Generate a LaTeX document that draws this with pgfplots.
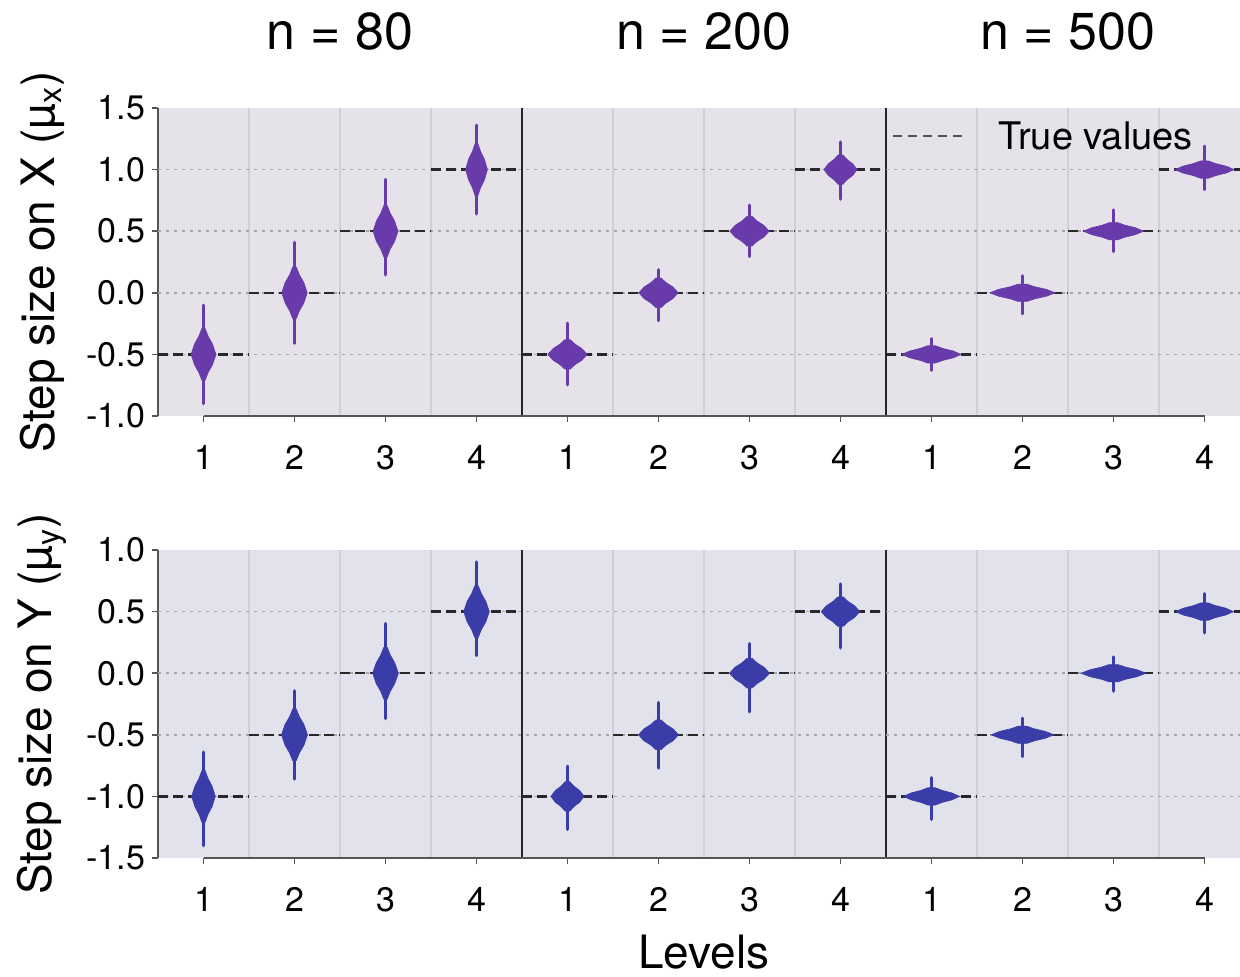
\documentclass[border=0pt]{standalone}
\usepackage{fontspec}
\setmainfont{TeX Gyre Heros}
\usepackage{pgfplots}
\pgfplotsset{compat=1.18}
\usepackage{pgfplotstable}

\definecolor{vpurple}{RGB}{104,58,170}
\definecolor{vblue}{RGB}{58,60,168}
\definecolor{bgtop}{RGB}{229,226,234}
\definecolor{bgbot}{RGB}{226,226,236}
\definecolor{axgray}{RGB}{85,85,85}
\definecolor{gridv}{RGB}{208,208,212}
\definecolor{gridh}{RGB}{165,165,170}
\definecolor{truec}{RGB}{40,40,40}

% needle extent of each violin: x, centre, upper reach, lower reach
\pgfplotstableread{
x c ep em
1 -0.5 0.40 0.40
2 0 0.41 0.41
3 0.5 0.42 0.355
4 1.0 0.36 0.36
5 -0.5 0.254 0.247
6 0 0.187 0.225
7 0.5 0.211 0.205
8 1.0 0.225 0.24
9 -0.5 0.127 0.13
10 0 0.138 0.17
11 0.5 0.173 0.165
12 1.0 0.19 0.162
}\needletop

\pgfplotstableread{
x c ep em
1 -1 0.36 0.40
2 -0.5 0.357 0.36
3 0 0.403 0.368
4 0.5 0.403 0.357
5 -1 0.246 0.268
6 -0.5 0.262 0.27
7 0 0.24 0.314
8 0.5 0.225 0.295
9 -1 0.152 0.187
10 -0.5 0.135 0.176
11 0 0.132 0.146
12 0.5 0.146 0.173
}\needlebot

\pgfplotsset{
  panel/.style={
    scale only axis, width=541pt, height=154pt,
    xmin=0.5, xmax=12.39,
    axis x line*=bottom, axis y line*=left,
    x axis line style={draw=none},
    y axis line style={axgray, line width=0.8pt},
    xtick={1,...,12}, xticklabels={1,2,3,4,1,2,3,4,1,2,3,4},
    minor xtick={1.5,2.5,3.5,5.5,6.5,7.5,9.5,10.5,11.5},
    xminorgrids,
    minor grid style={color=gridv, line width=0.6pt},
    extra x ticks={4.5,8.5}, extra x tick labels={},
    extra x tick style={grid=major, major grid style={color=black!85, line width=0.9pt}, major tick length=0pt},
    tick align=outside, major tick length=3pt, minor tick length=0pt,
    tick style={axgray, line width=0.8pt},
    tick label style={font=\fontsize{17}{20}\selectfont, text=black},
    xticklabel style={yshift=-8pt},
  },
  truedash/.style={color=truec, line width=1.2pt, dash pattern=on 5pt off 2.5pt, unbounded coords=jump, mark=none},
  vbt/.style={fill=vpurple, draw=vpurple, line width=0.3pt, mark=none},
  vbb/.style={fill=vblue, draw=vblue, line width=0.3pt, mark=none},
}

\begin{document}
\begin{tikzpicture}

% ---------------- top row: step size on X ----------------
\begin{axis}[panel, at={(79pt,280pt)}, anchor=south west,
  axis background/.style={fill=bgtop},
  ymin=-1, ymax=1.5,
  ytick={-1,-0.5,0,0.5,1,1.5}, yticklabels={-1.0,-0.5,0.0,0.5,1.0,1.5},
  extra y ticks={-0.5,0,0.5,1}, extra y tick labels={},
  extra y tick style={grid=major, major grid style={color=gridh, line width=0.75pt, dash pattern=on 1.5pt off 2.5pt}, major tick length=0pt},
]
\addplot[truedash] coordinates {(0.5,-0.5) (1.5,-0.5) (1.5,nan) (1.5,0) (2.5,0) (2.5,nan) (2.5,0.5) (3.5,0.5) (3.5,nan) (3.5,1) (4.5,1) (4.5,nan)
 (4.5,-0.5) (5.5,-0.5) (5.5,nan) (5.5,0) (6.5,0) (6.5,nan) (6.5,0.5) (7.5,0.5) (7.5,nan) (7.5,1) (8.5,1) (8.5,nan)
 (8.5,-0.5) (9.5,-0.5) (9.5,nan) (9.5,0) (10.5,0) (10.5,nan) (10.5,0.5) (11.5,0.5) (11.5,nan) (11.5,1) (12.5,1)};

\addplot[draw=none, mark=none, error bars/.cd, y dir=both, y explicit, error mark=none,
  error bar style={draw=vpurple, line width=1.6pt, line cap=round}]
  table[x=x, y=c, y error plus=ep, y error minus=em] {\needletop};

% n = 80
\addplot[vbt] coordinates {(1.018,-0.29) (1.051,-0.353) (1.099,-0.416) (1.137,-0.5) (1.099,-0.584) (1.051,-0.647) (1.018,-0.71) (0.982,-0.71) (0.949,-0.647) (0.901,-0.584) (0.863,-0.5) (0.901,-0.416) (0.949,-0.353) (0.982,-0.29)} -- cycle;
\addplot[vbt] coordinates {(2.019,0.21) (2.053,0.147) (2.102,0.084) (2.14,0) (2.102,-0.084) (2.053,-0.147) (2.019,-0.21) (1.981,-0.21) (1.947,-0.147) (1.898,-0.084) (1.86,0) (1.898,0.084) (1.947,0.147) (1.981,0.21)} -- cycle;
\addplot[vbt] coordinates {(3.018,0.71) (3.051,0.647) (3.099,0.584) (3.137,0.5) (3.099,0.416) (3.051,0.353) (3.018,0.29) (2.982,0.29) (2.949,0.353) (2.901,0.416) (2.863,0.5) (2.901,0.584) (2.949,0.647) (2.982,0.71)} -- cycle;
\addplot[vbt] coordinates {(4.016,1.21) (4.045,1.147) (4.087,1.084) (4.12,1) (4.087,0.916) (4.045,0.853) (4.016,0.79) (3.984,0.79) (3.955,0.853) (3.913,0.916) (3.88,1) (3.913,1.084) (3.955,1.147) (3.984,1.21)} -- cycle;
% n = 200
\addplot[vbt] coordinates {(5.029,-0.38) (5.081,-0.416) (5.157,-0.452) (5.216,-0.5) (5.157,-0.548) (5.081,-0.584) (5.029,-0.62) (4.971,-0.62) (4.919,-0.584) (4.843,-0.548) (4.784,-0.5) (4.843,-0.452) (4.919,-0.416) (4.971,-0.38)} -- cycle;
\addplot[vbt] coordinates {(6.029,0.12) (6.081,0.084) (6.157,0.048) (6.216,0) (6.157,-0.048) (6.081,-0.084) (6.029,-0.12) (5.971,-0.12) (5.919,-0.084) (5.843,-0.048) (5.784,0) (5.843,0.048) (5.919,0.084) (5.971,0.12)} -- cycle;
\addplot[vbt] coordinates {(7.029,0.62) (7.081,0.584) (7.157,0.548) (7.216,0.5) (7.157,0.452) (7.081,0.416) (7.029,0.38) (6.971,0.38) (6.919,0.416) (6.843,0.452) (6.784,0.5) (6.843,0.548) (6.919,0.584) (6.971,0.62)} -- cycle;
\addplot[vbt] coordinates {(8.025,1.12) (8.069,1.084) (8.133,1.048) (8.183,1) (8.133,0.952) (8.069,0.916) (8.025,0.88) (7.975,0.88) (7.931,0.916) (7.867,0.952) (7.817,1) (7.867,1.048) (7.931,1.084) (7.975,1.12)} -- cycle;
% n = 500
\addplot[vbt] coordinates {(9.044,-0.43) (9.122,-0.451) (9.237,-0.472) (9.326,-0.5) (9.237,-0.528) (9.122,-0.549) (9.044,-0.57) (8.956,-0.57) (8.878,-0.549) (8.763,-0.528) (8.674,-0.5) (8.763,-0.472) (8.878,-0.451) (8.956,-0.43)} -- cycle;
\addplot[vbt] coordinates {(10.049,0.07) (10.135,0.049) (10.261,0.028) (10.36,0) (10.261,-0.028) (10.135,-0.049) (10.049,-0.07) (9.951,-0.07) (9.865,-0.049) (9.739,-0.028) (9.64,0) (9.739,0.028) (9.865,0.049) (9.951,0.07)} -- cycle;
\addplot[vbt] coordinates {(11.045,0.57) (11.124,0.549) (11.24,0.528) (11.33,0.5) (11.24,0.472) (11.124,0.451) (11.045,0.43) (10.955,0.43) (10.876,0.451) (10.76,0.472) (10.67,0.5) (10.76,0.528) (10.876,0.549) (10.955,0.57)} -- cycle;
\addplot[vbt] coordinates {(12.044,1.07) (12.122,1.049) (12.237,1.028) (12.326,1) (12.237,0.972) (12.122,0.951) (12.044,0.93) (11.956,0.93) (11.878,0.951) (11.763,0.972) (11.674,1) (11.763,1.028) (11.878,1.049) (11.956,1.07)} -- cycle;

\coordinate (ta) at (axis cs:1,-1);
\coordinate (tb) at (axis cs:12,-1);
\end{axis}

% ---------------- bottom row: step size on Y ----------------
\begin{axis}[panel, at={(79pt,59pt)}, anchor=south west,
  axis background/.style={fill=bgbot},
  ymin=-1.5, ymax=1,
  ytick={-1.5,-1,-0.5,0,0.5,1}, yticklabels={-1.5,-1.0,-0.5,0.0,0.5,1.0},
  extra y ticks={-1,-0.5,0,0.5}, extra y tick labels={},
  extra y tick style={grid=major, major grid style={color=gridh, line width=0.75pt, dash pattern=on 1.5pt off 2.5pt}, major tick length=0pt},
]
\addplot[truedash] coordinates {(0.5,-1) (1.5,-1) (1.5,nan) (1.5,-0.5) (2.5,-0.5) (2.5,nan) (2.5,0) (3.5,0) (3.5,nan) (3.5,0.5) (4.5,0.5) (4.5,nan)
 (4.5,-1) (5.5,-1) (5.5,nan) (5.5,-0.5) (6.5,-0.5) (6.5,nan) (6.5,0) (7.5,0) (7.5,nan) (7.5,0.5) (8.5,0.5) (8.5,nan)
 (8.5,-1) (9.5,-1) (9.5,nan) (9.5,-0.5) (10.5,-0.5) (10.5,nan) (10.5,0) (11.5,0) (11.5,nan) (11.5,0.5) (12.5,0.5)};

\addplot[draw=none, mark=none, error bars/.cd, y dir=both, y explicit, error mark=none,
  error bar style={draw=vblue, line width=1.6pt, line cap=round}]
  table[x=x, y=c, y error plus=ep, y error minus=em] {\needlebot};

% n = 80
\addplot[vbb] coordinates {(1.018,-0.79) (1.049,-0.853) (1.094,-0.916) (1.13,-1) (1.094,-1.084) (1.049,-1.147) (1.018,-1.21) (0.982,-1.21) (0.951,-1.147) (0.906,-1.084) (0.87,-1) (0.906,-0.916) (0.951,-0.853) (0.982,-0.79)} -- cycle;
\addplot[vbb] coordinates {(2.019,-0.29) (2.054,-0.353) (2.104,-0.416) (2.143,-0.5) (2.104,-0.584) (2.054,-0.647) (2.019,-0.71) (1.981,-0.71) (1.946,-0.647) (1.896,-0.584) (1.857,-0.5) (1.896,-0.416) (1.946,-0.353) (1.981,-0.29)} -- cycle;
\addplot[vbb] coordinates {(3.019,0.21) (3.053,0.147) (3.102,0.084) (3.141,0) (3.102,-0.084) (3.053,-0.147) (3.019,-0.21) (2.981,-0.21) (2.947,-0.147) (2.898,-0.084) (2.859,0) (2.898,0.084) (2.947,0.147) (2.981,0.21)} -- cycle;
\addplot[vbb] coordinates {(4.019,0.71) (4.053,0.647) (4.102,0.584) (4.141,0.5) (4.102,0.416) (4.053,0.353) (4.019,0.29) (3.981,0.29) (3.947,0.353) (3.898,0.416) (3.859,0.5) (3.898,0.584) (3.947,0.647) (3.981,0.71)} -- cycle;
% n = 200
\addplot[vbb] coordinates {(5.025,-0.88) (5.069,-0.916) (5.133,-0.952) (5.183,-1) (5.133,-1.048) (5.069,-1.084) (5.025,-1.12) (4.975,-1.12) (4.931,-1.084) (4.867,-1.048) (4.817,-1) (4.867,-0.952) (4.931,-0.916) (4.975,-0.88)} -- cycle;
\addplot[vbb] coordinates {(6.03,-0.38) (6.083,-0.416) (6.16,-0.452) (6.22,-0.5) (6.16,-0.548) (6.083,-0.584) (6.03,-0.62) (5.97,-0.62) (5.917,-0.584) (5.84,-0.548) (5.78,-0.5) (5.84,-0.452) (5.917,-0.416) (5.97,-0.38)} -- cycle;
\addplot[vbb] coordinates {(7.03,0.12) (7.083,0.084) (7.16,0.048) (7.22,0) (7.16,-0.048) (7.083,-0.084) (7.03,-0.12) (6.97,-0.12) (6.917,-0.084) (6.84,-0.048) (6.78,0) (6.84,0.048) (6.917,0.084) (6.97,0.12)} -- cycle;
\addplot[vbb] coordinates {(8.029,0.62) (8.08,0.584) (8.154,0.548) (8.212,0.5) (8.154,0.452) (8.08,0.416) (8.029,0.38) (7.971,0.38) (7.92,0.416) (7.846,0.452) (7.788,0.5) (7.846,0.548) (7.92,0.584) (7.971,0.62)} -- cycle;
% n = 500
\addplot[vbb] coordinates {(9.042,-0.93) (9.116,-0.951) (9.224,-0.972) (9.308,-1) (9.224,-1.028) (9.116,-1.049) (9.042,-1.07) (8.958,-1.07) (8.884,-1.049) (8.776,-1.028) (8.692,-1) (8.776,-0.972) (8.884,-0.951) (8.958,-0.93)} -- cycle;
\addplot[vbb] coordinates {(10.046,-0.43) (10.129,-0.451) (10.25,-0.472) (10.344,-0.5) (10.25,-0.528) (10.129,-0.549) (10.046,-0.57) (9.954,-0.57) (9.871,-0.549) (9.75,-0.528) (9.656,-0.5) (9.75,-0.472) (9.871,-0.451) (9.954,-0.43)} -- cycle;
\addplot[vbb] coordinates {(11.048,0.07) (11.134,0.049) (11.259,0.028) (11.357,0) (11.259,-0.028) (11.134,-0.049) (11.048,-0.07) (10.952,-0.07) (10.866,-0.049) (10.741,-0.028) (10.643,0) (10.741,0.028) (10.866,0.049) (10.952,0.07)} -- cycle;
\addplot[vbb] coordinates {(12.043,0.57) (12.12,0.549) (12.232,0.528) (12.319,0.5) (12.232,0.472) (12.12,0.451) (12.043,0.43) (11.957,0.43) (11.88,0.451) (11.768,0.472) (11.681,0.5) (11.768,0.528) (11.88,0.549) (11.957,0.57)} -- cycle;

\coordinate (ba) at (axis cs:1,-1.5);
\coordinate (bb) at (axis cs:12,-1.5);
\end{axis}

% range-frame x axis lines
\draw[axgray, line width=0.8pt] (ta) -- (tb);
\draw[axgray, line width=0.8pt] (ba) -- (bb);

% titles and labels
\node[anchor=base, font=\fontsize{26}{30}\selectfont] at (170pt,463pt) {n = 80};
\node[anchor=base, font=\fontsize{26}{30}\selectfont] at (351.75pt,463pt) {n = 200};
\node[anchor=base, font=\fontsize{26}{30}\selectfont] at (533.75pt,463pt) {n = 500};
\node[rotate=90, font=\fontsize{23}{27}\selectfont] at (21pt,357pt) {Step size on X (µ\textsubscript{x})};
\node[rotate=90, font=\fontsize{23}{27}\selectfont] at (21pt,136pt) {Step size on Y (µ\textsubscript{y})};
\node[anchor=base, inner sep=1pt, font=\fontsize{23}{27}\selectfont] at (352pt,4pt) {Levels};

% legend
\draw[color=truec!80, line width=1pt, dash pattern=on 4.5pt off 3pt] (446.5pt,420pt) -- (481.5pt,420pt);
\node[anchor=base west, inner sep=0pt, font=\fontsize{19}{23}\selectfont] at (499pt,413pt) {True values};

\pgfresetboundingbox
\path[use as bounding box] (0,0) rectangle (620pt,488pt);
\end{tikzpicture}
\end{document}
